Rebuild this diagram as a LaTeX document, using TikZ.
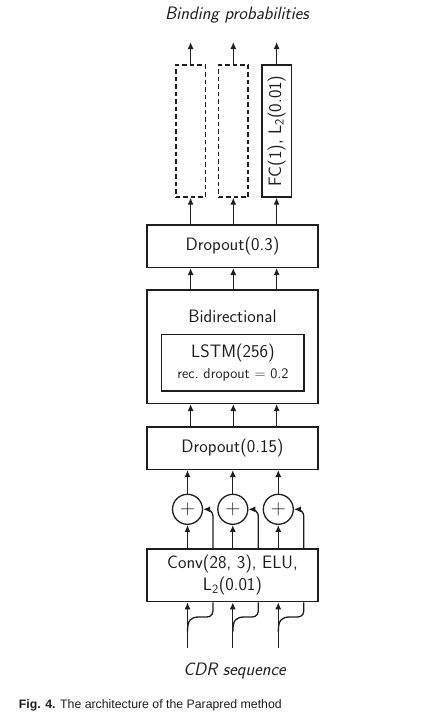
\documentclass[tikz,border=0pt]{standalone}
\usepackage{fontspec}
\newfontfamily\capfont{Liberation Sans}
\usetikzlibrary{arrows.meta,calc}
\definecolor{ink}{HTML}{1E1E1E}
\begin{document}
\begin{tikzpicture}[x=1pt,y=-1pt,
  line width=1.3pt, draw=ink, text=ink,
  every node/.style={font=\fontsize{18}{22}\selectfont\sffamily},
  box/.style={draw, rectangle, minimum width=171pt, inner sep=0pt},
  arr/.style={-{Latex[length=7pt,width=6pt]}},
  pnode/.style={draw, circle, minimum size=30pt, inner sep=0pt, font=\fontsize{20}{22}\selectfont},
  tallbox/.style={draw, rectangle, minimum width=29.5pt, minimum height=132pt, inner sep=0pt},
  dbox/.style={tallbox, dash pattern=on 4.5pt off 3pt},
  small/.style={font=\fontsize{14.5}{17}\selectfont\sffamily}
]
\useasboundingbox (0,0) rectangle (428,726);

% top output boxes
\node[dbox] (d1) at (190.6,131) {};
\node[dbox] (d2) at (233.3,131) {};
\node[tallbox] (d3) at (276.6,131) {\rotatebox{90}{FC(1), L\textsubscript{2}(0.01)}};

\node[box, minimum height=42.3pt] (drop3) at (232.5,246.2) {Dropout(0.3)};
\node[box, minimum height=113.3pt] (bidir) at (232.5,346.7) {};
\node (bidirtxt) at (232.5,316) {Bidirectional};
\node[draw, rectangle, minimum width=142.3pt, minimum height=56.7pt, inner sep=0pt] (lstm) at (232.9,362.7) {};
\node (lstmtxt) at (232.9,352.7) {LSTM(256)};
\node[small] (rectxt) at (232.9,375) {rec.\ dropout $=$ 0.2};
\node[box, minimum height=42.3pt] (drop15) at (232.5,448.2) {Dropout(0.15)};

\node[pnode] (p1) at (187.5,509.3) {$+$};
\node[pnode] (p2) at (232.8,509.3) {$+$};
\node[pnode] (p3) at (278.3,509.3) {$+$};

\node[box, minimum height=52.7pt, align=center] (conv) at (232.5,575.3) {Conv(28, 3), ELU,\\L\textsubscript{2}(0.01)};

\node (title) at (237,15) {\itshape Binding probabilities};
\node (cdr) at (234.5,671) {\itshape CDR sequence};
\node[anchor=west, font=\capfont\fontsize{12.3}{14}\selectfont] (cap) at (15,705.5) {\textbf{Fig. 4.} The architecture of the Parapred method};

\foreach \i in {1,2,3} {
  \coordinate (t\i) at (d\i.north |- 0,42);
  \draw[arr] (d\i.north) -- (t\i);
  \draw[arr] (drop3.north -| d\i) -- (d\i.south);
  \draw[arr] (bidir.north -| d\i) -- (drop3.south -| d\i);
  \draw[arr] (drop15.north -| d\i) -- (bidir.south -| d\i);
  \draw[arr] (p\i.north) -- (drop15.south -| p\i);
  \draw[arr] (conv.north -| p\i) -- (p\i.south);
  \draw[arr, rounded corners=7pt] ($(conv.north -| p\i)+(25.5,0)$) |- (p\i.east);
  \coordinate (in\i) at (p\i |- 0,648);
  \draw[arr] (in\i) -- (conv.south -| p\i);
  \draw ($(in\i)+(0,-16)$) .. controls ($(in\i)+(0,-28)$) and ($(in\i)+(3,-31)$) .. ($(in\i)+(12,-31)$)
        -- ($(in\i)+(18,-31)$) .. controls ($(in\i)+(25.5,-31)$) and ($(in\i)+(25.5,-35)$) .. ($(in\i)+(25.5,-40)$)
        -- ($(conv.south -| p\i)+(25.5,0)$);
}
\end{tikzpicture}
\end{document}
